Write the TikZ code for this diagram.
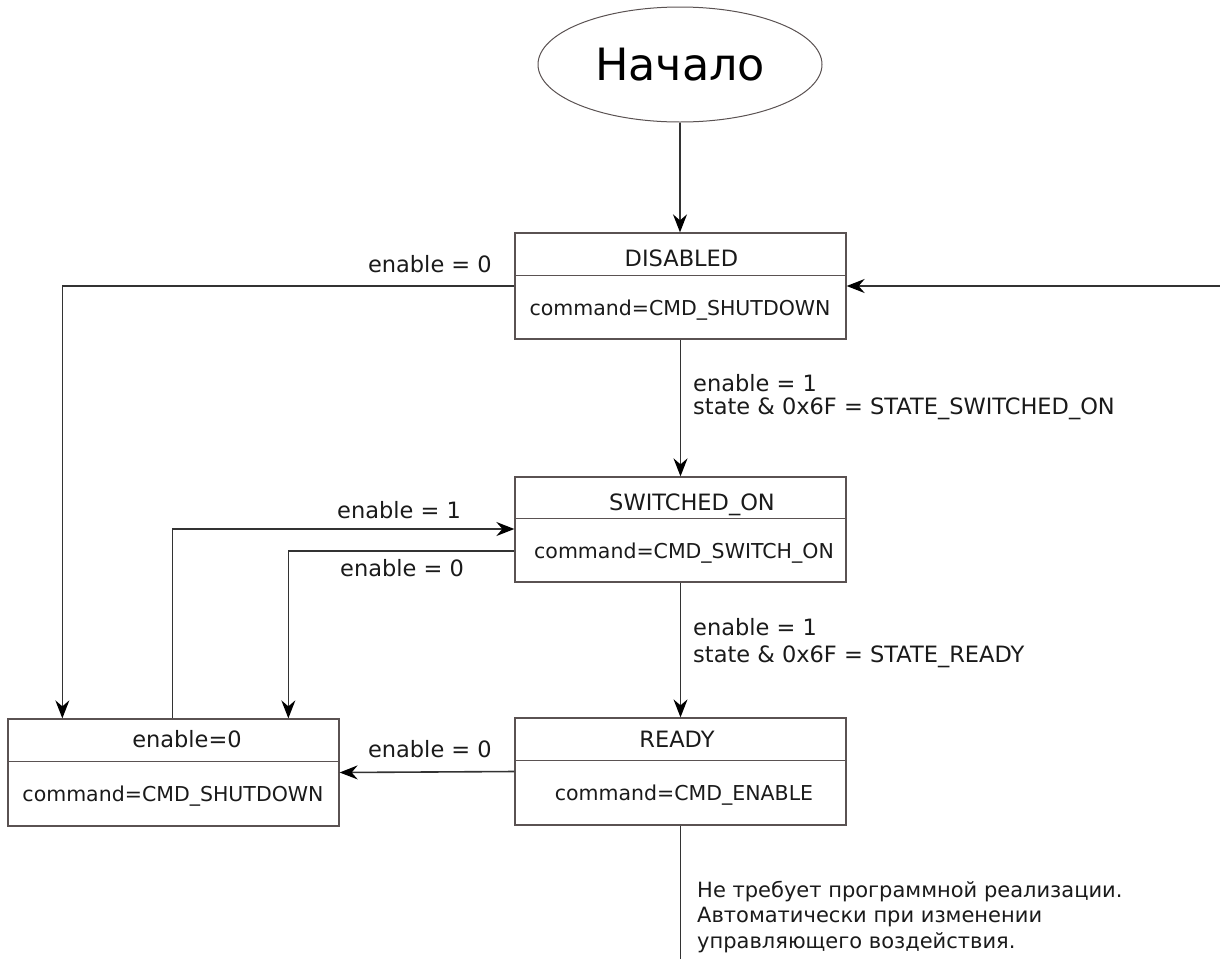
\documentclass[tikz,border=0pt]{standalone}
\usepackage{fontspec}
\setmainfont{DejaVu Sans}
\usetikzlibrary{arrows.meta,shapes.geometric}
\definecolor{linec}{HTML}{333333}
\definecolor{boxc}{HTML}{5A5252}
\definecolor{txt}{HTML}{1A1A1A}
\begin{document}
\begin{tikzpicture}[x=1pt,y=-1pt,
  line/.style={draw=linec, line width=1.6pt},
  arr/.style={line, -{Stealth[length=18pt,width=14pt,inset=6pt,color=black]}},
  boxst/.style={draw=boxc, line width=1.3pt, minimum width=331pt, inner sep=0pt},
  btxt/.style={font=\fontsize{20.5}{24}\selectfont, text=txt, inner sep=0pt, anchor=base},
  ttxt/.style={font=\fontsize{22.5}{24}\selectfont, text=txt, inner sep=0pt, anchor=base},
  lbl/.style={font=\fontsize{22.5}{25.5}\selectfont, text=txt, inner sep=0pt, align=left},
  note/.style={font=\fontsize{21}{25.5}\selectfont, text=txt, inner sep=0pt, align=left}]
\useasboundingbox (0,0) rectangle (1220,959);

% start
\node[draw=boxc, line width=1pt, ellipse, minimum width=284pt, minimum height=115pt, inner sep=0pt, text=black,
      font=\fontsize{44.5}{44}\selectfont] (start) at (680,64.5) {Начало};

% boxes
\node[boxst, minimum height=106pt] (dis) at (680.5,286) {};
\node[boxst, minimum height=105pt] (sw)  at (680.5,529.5) {};
\node[boxst, minimum height=107pt] (rdy) at (680.5,771.5) {};
\node[boxst, minimum height=107pt, minimum width=331pt] (lft) at (173.5,772.5) {};

\draw[draw=boxc, line width=1.3pt] (dis.north west) ++(0,43) -- ++(331,0);
\draw[draw=boxc, line width=1.3pt] (sw.north west) ++(0,42) -- ++(331,0);
\draw[draw=boxc, line width=1.3pt] (rdy.north west) ++(0,43) -- ++(331,0);
\draw[draw=boxc, line width=1.3pt] (lft.north west) ++(0,43) -- ++(331,0);

\node[ttxt] (disT) at (681.5,266) {DISABLED};
\node[btxt] (disC) at (680,315) {command=CMD\_SHUTDOWN};
\node[ttxt] (swT)  at (692,510) {SWITCHED\_ON};
\node[btxt] (swC)  at (684,558) {command=CMD\_SWITCH\_ON};
\node[ttxt] (rdyT) at (677,747) {READY};
\node[btxt] (rdyC) at (684,800) {command=CMD\_ENABLE};
\node[ttxt] (lftT) at (187,747) {enable=0};
\node[btxt] (lftC) at (173,801) {command=CMD\_SHUTDOWN};

% connectors
\coordinate (eR) at (1220,286);
\coordinate (eB) at (680.5,959);
\draw[arr] (start.south) -- (start.south |- dis.north);
\draw[arr] (dis.west) -| ([xshift=55pt]lft.north west);
\draw[arr] (eR) -- (dis.east);
\draw[arr] (dis.south) -- (sw.north);
\draw[arr] ([xshift=165pt]lft.north west) |- ([yshift=0.5pt]sw.west);
\draw[arr] ([yshift=-21.5pt]sw.west) -| ([xshift=281pt]lft.north west);
\draw[arr] (sw.south) -- (rdy.north);
\draw[arr] (rdy.west) -- (lft.east);
\draw[line] (rdy.south) -- (eB);

% labels
\node[lbl, anchor=base east] (l1) at (492,272) {enable = 0};
\node[lbl, anchor=base west] (l2) at (693,391.5) {enable = 1};
\node[lbl, anchor=base west] (l3) at (693,414) {state \& 0x6F = STATE\_SWITCHED\_ON};
\node[lbl, anchor=base west] (l4) at (337,518) {enable = 1};
\node[lbl, anchor=base west] (l5) at (340,576) {enable = 0};
\node[lbl, anchor=base west] (l6) at (693,635) {enable = 1};
\node[lbl, anchor=base west] (l7) at (693,662) {state \& 0x6F = STATE\_READY};
\node[lbl, anchor=base east] (l8) at (492,757) {enable = 0};
\node[note, anchor=base west] (l9) at (697,897) {Не требует программной реализации.};
\node[note, anchor=base west] (l10) at (697,922.5) {Автоматически при изменении};
\node[note, anchor=base west] (l11) at (697,948) {управляющего воздействия.};
\end{tikzpicture}
\end{document}
